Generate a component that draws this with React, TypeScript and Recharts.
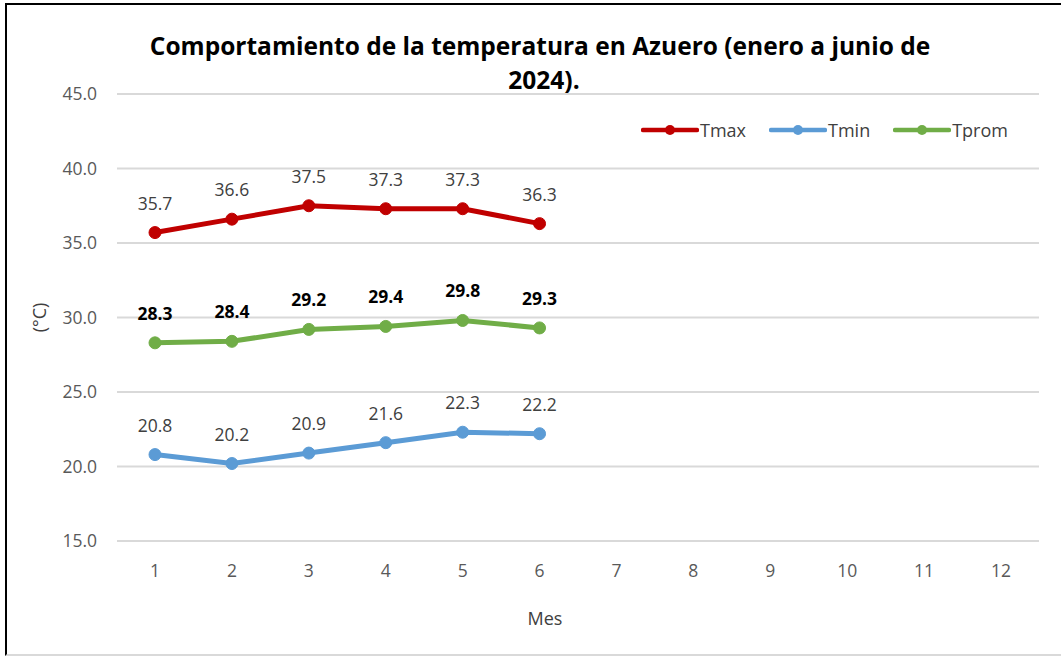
import React from 'react';
import { LineChart, Line, XAxis, YAxis, CartesianGrid, LabelList } from 'recharts';

const months = [1, 2, 3, 4, 5, 6, 7, 8, 9, 10, 11, 12];
const tmax = [35.7, 36.6, 37.5, 37.3, 37.3, 36.3];
const tmin = [20.8, 20.2, 20.9, 21.6, 22.3, 22.2];
const tprom = [28.3, 28.4, 29.2, 29.4, 29.8, 29.3];
const yTicks = [15, 20, 25, 30, 35, 40, 45];
const titleLines = ['Comportamiento de la temperatura en Azuero (enero a junio de', '2024).'];

const data = months.map((m, i) => ({
  mes: m,
  Tmax: i < tmax.length ? tmax[i] : null,
  Tmin: i < tmin.length ? tmin[i] : null,
  Tprom: i < tprom.length ? tprom[i] : null,
}));

const FONT = '"Open Sans", "Liberation Sans", sans-serif';

const makeLabel = (bold: boolean) => (props: any) => {
  const { value } = props;
  if (value === null || value === undefined) return null;
  const x = props.x ?? props.viewBox?.x;
  const y = props.y ?? props.viewBox?.y;
  if (x == null || y == null) return null;
  return (
    <text
      x={x}
      y={y - 23}
      textAnchor="middle"
      fontFamily={FONT}
      fontSize={17.5}
      fontWeight={bold ? 700 : 400}
      fill={bold ? '#000000' : '#404040'}
    >
      {Number(value).toFixed(1)}
    </text>
  );
};

const series = [
  { key: 'Tmax', color: '#C00000', bold: false },
  { key: 'Tmin', color: '#5B9BD5', bold: false },
  { key: 'Tprom', color: '#70AD47', bold: true },
];

const LegendItem = ({ name, color }: { name: string; color: string }) => (
  <div style={{ display: 'flex', alignItems: 'center', marginRight: 23 }}>
    <svg width={58} height={14} style={{ display: 'block' }}>
      <line x1={2} y1={7} x2={56} y2={7} stroke={color} strokeWidth={4.5} strokeLinecap="round" />
      <circle cx={29} cy={7} r={5} fill={color} />
    </svg>
    <span style={{ marginLeft: 1 }}>{name}</span>
  </div>
);

export default function App() {
  return (
    <div
      style={{
        position: 'absolute',
        left: 5,
        top: 3,
        width: 1056,
        height: 649,
        borderTop: '2px solid #000',
        borderLeft: '2px solid #000',
        borderBottom: '2px solid #d9d9d9',
        background: '#fff',
        fontFamily: FONT,
      }}
    >
      <div
        style={{
          position: 'absolute',
          left: 0,
          width: 1066,
          top: 24,
          textAlign: 'center',
          fontWeight: 700,
          fontSize: 24.5,
          lineHeight: '34px',
          color: '#000',
        }}
      >
        <div>{titleLines[0]}</div>
        <div style={{ paddingLeft: 8 }}>{titleLines[1]}</div>
      </div>
      <div
        style={{
          position: 'absolute',
          left: 634,
          top: 113,
          display: 'flex',
          fontSize: 18,
          color: '#404040',
        }}
      >
        {series.map((s) => (
          <LegendItem key={s.key} name={s.key} color={s.color} />
        ))}
      </div>
      <LineChart
        width={1054}
        height={647}
        data={data}
        margin={{ top: 89, right: 22, bottom: 11, left: 30 }}
      >
        <CartesianGrid vertical={false} stroke="#d9d9d9" strokeWidth={2} />
        <XAxis
          dataKey="mes"
          type="category"
          axisLine={false}
          tickLine={false}
          tickSize={0}
          tickMargin={24}
          height={100}
          padding={{ left: 38, right: 38 }}
          tick={{ fill: '#595959', fontSize: 17.5, fontFamily: FONT }}
          label={{
            value: 'Mes',
            position: 'insideBottom',
            offset: 16,
            dx: -33,
            fill: '#404040',
            fontSize: 18,
            fontFamily: FONT,
          }}
        />
        <YAxis
          domain={[15, 45]}
          ticks={yTicks}
          width={80}
          axisLine={false}
          tickLine={false}
          tickSize={0}
          tickMargin={20}
          tickFormatter={(v: number) => v.toFixed(1)}
          tick={{ fill: '#595959', fontSize: 17.5, fontFamily: FONT }}
          label={{
            value: '(°C)',
            angle: -90,
            position: 'insideLeft',
            offset: 3,
            style: { textAnchor: 'middle' },
            fill: '#404040',
            fontSize: 18,
            fontFamily: FONT,
          }}
        />
        {series.map((s) => (
          <Line
            key={s.key}
            dataKey={s.key}
            stroke={s.color}
            strokeWidth={5}
            dot={{ r: 6, fill: s.color, stroke: s.color, strokeWidth: 1 }}
            activeDot={false}
            isAnimationActive={false}
          >
            <LabelList dataKey={s.key} content={makeLabel(s.bold)} />
          </Line>
        ))}
      </LineChart>
    </div>
  );
}
